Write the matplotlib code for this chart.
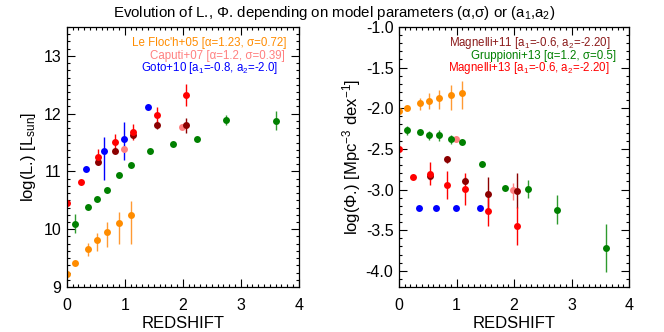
import matplotlib
matplotlib.use("Agg")
import matplotlib.pyplot as plt
from matplotlib.ticker import MultipleLocator
import numpy as np

plt.rcParams['font.family'] = ['Liberation Sans', 'DejaVu Sans']
plt.rcParams['mathtext.fontset'] = 'custom'
plt.rcParams['mathtext.rm'] = 'Liberation Sans'
plt.rcParams['mathtext.it'] = 'Liberation Sans'
plt.rcParams['mathtext.default'] = 'regular'

# ---------------- data: left panel (log L*) ----------------
lf_z = [0.0, 0.14, 0.37, 0.52, 0.69, 0.90, 1.10]
lf_L = [9.22, 9.42, 9.66, 9.81, 9.96, 10.11, 10.25]
lf_Llo = [9.22, 9.42, 9.54, 9.63, 9.69, 9.75, 9.75]
lf_Lhi = [9.22, 9.42, 9.76, 9.94, 10.12, 10.30, 10.48]

gr_z = [0.14, 0.37, 0.52, 0.69, 0.90, 1.10, 1.44, 1.84, 2.24, 2.75, 3.60]
gr_L = [10.09, 10.38, 10.52, 10.68, 10.94, 11.11, 11.35, 11.47, 11.57, 11.89, 11.88]
gr_Llo = [9.93, 10.38, 10.52, 10.68, 10.94, 11.11, 11.35, 11.47, 11.57, 11.81, 11.71]
gr_Lhi = [10.26, 10.38, 10.52, 10.68, 10.94, 11.11, 11.35, 11.47, 11.57, 11.97, 12.04]

m13_z = [0.0, 0.24, 0.54, 0.84, 1.14, 1.55, 2.05]
m13_L = [10.45, 10.81, 11.25, 11.51, 11.68, 11.97, 12.32]
m13_Llo = [10.45, 10.76, 11.12, 11.38, 11.54, 11.81, 12.13]
m13_Lhi = [10.45, 10.86, 11.38, 11.65, 11.82, 12.12, 12.51]

m11_z = [0.54, 0.84, 1.14, 1.55, 2.05]
m11_L = [11.16, 11.35, 11.63, 11.81, 11.80]
m11_Llo = [11.16, 11.35, 11.63, 11.73, 11.66]
m11_Lhi = [11.16, 11.35, 11.63, 11.88, 11.93]

ca_z = [0.99, 1.99]
ca_L = [11.38, 11.77]
ca_Llo = [11.34, 11.73]
ca_Lhi = [11.42, 11.81]

go_z = [0.34, 0.64, 0.99, 1.40]
go_L = [11.05, 11.35, 11.56, 12.12]
go_Llo = [11.00, 10.86, 11.20, 12.07]
go_Lhi = [11.10, 11.60, 11.86, 12.17]

# ---------------- data: right panel (log Phi*) ----------------
lf_P = [-2.04, -2.00, -1.94, -1.91, -1.88, -1.84, -1.81]
lf_Plo = [-2.04, -2.02, -2.02, -2.01, -2.01, -2.02, -2.01]
lf_Phi = [-2.04, -1.98, -1.87, -1.81, -1.77, -1.72, -1.67]

gr_P = [-2.27, -2.29, -2.33, -2.33, -2.38, -2.41, -2.68, -2.98, -2.99, -3.25, -3.72]
gr_Plo = [-2.33, -2.32, -2.39, -2.40, -2.44, -2.44, -2.71, -3.00, -3.11, -3.43, -4.02]
gr_Phi = [-2.22, -2.27, -2.28, -2.27, -2.33, -2.38, -2.65, -2.96, -2.88, -3.07, -3.42]

m13_P = [-2.50, -2.84, -2.81, -2.94, -2.99, -3.27, -3.45]
m13_Plo = [-2.50, -2.87, -2.94, -3.12, -3.19, -3.45, -3.68]
m13_Phi = [-2.50, -2.81, -2.66, -2.77, -2.80, -3.04, -3.22]

m11_P = [-2.83, -2.63, -2.89, -3.05, -3.02]
m11_Plo = [-2.88, -2.67, -2.93, -3.26, -3.23]
m11_Phi = [-2.78, -2.59, -2.85, -2.85, -2.80]

ca_P = [-2.38, -3.01]
ca_Plo = [-2.42, -3.13]
ca_Phi = [-2.34, -2.92]

go_P = [-3.23, -3.23, -3.23, -3.23]

# ---------------- colours ----------------
c_lf = '#FF8C00'
c_ca = '#FF8080'
c_go = '#0000FF'
c_m11 = '#8B0000'
c_gr = '#008000'
c_m13 = '#FF0000'

fig = plt.figure(figsize=(6.64, 3.32), dpi=100)
axL = fig.add_axes([0.1005, 0.1355, 0.3494, 0.7832])
axR = fig.add_axes([0.6009, 0.1355, 0.3464, 0.7832])

MS = 5.0


def ebar(ax, z, y, lo, hi, col, ecol=None):
    y = np.asarray(y, float)
    lo = np.asarray(lo, float)
    hi = np.asarray(hi, float)
    err = np.vstack([y - lo, hi - y])
    ax.errorbar(z, y, yerr=err, fmt='o', color=col, ecolor=ecol or col,
                ms=MS, mew=0, elinewidth=1.0, capsize=1.3, capthick=1.0,
                clip_on=True)


# left panel
ebar(axL, lf_z, lf_L, lf_Llo, lf_Lhi, c_lf, '#FF9A33')
ebar(axL, ca_z, ca_L, ca_Llo, ca_Lhi, c_ca)
ebar(axL, go_z, go_L, go_Llo, go_Lhi, c_go)
ebar(axL, m11_z, m11_L, m11_Llo, m11_Lhi, c_m11)
ebar(axL, gr_z, gr_L, gr_Llo, gr_Lhi, c_gr, '#2E9A2E')
ebar(axL, m13_z, m13_L, m13_Llo, m13_Lhi, c_m13)

# right panel
ebar(axR, lf_z, lf_P, lf_Plo, lf_Phi, c_lf, '#FF9A33')
ebar(axR, ca_z, ca_P, ca_Plo, ca_Phi, c_ca)
axR.plot(go_z, go_P, 'o', color=c_go, ms=MS, mew=0)
ebar(axR, m11_z, m11_P, m11_Plo, m11_Phi, c_m11)
ebar(axR, gr_z, gr_P, gr_Plo, gr_Phi, c_gr, '#2E9A2E')
ebar(axR, m13_z, m13_P, m13_Plo, m13_Phi, c_m13)

for ax in (axL, axR):
    ax.set_xlim(0, 4)
    ax.xaxis.set_major_locator(MultipleLocator(1))
    ax.xaxis.set_minor_locator(MultipleLocator(0.1))
    ax.tick_params(which='both', direction='in', top=True, right=True,
                   labelsize=11.5, width=0.8)
    ax.tick_params(which='major', length=6)
    ax.tick_params(which='minor', length=2.3)
    ax.tick_params(axis='x', pad=8)
    ax.tick_params(axis='y', pad=4)
    for s in ax.spines.values():
        s.set_linewidth(0.9)
    ax.set_xlabel('REDSHIFT', fontsize=12, labelpad=2)

axL.set_ylim(9, 13.5)
axL.yaxis.set_major_locator(MultipleLocator(1))
axL.yaxis.set_minor_locator(MultipleLocator(0.125))
axL.set_ylabel('log(L.) [L$_{sun}$]', fontsize=12, labelpad=4)

axR.set_ylim(-4.2, -1.0)
axR.yaxis.set_major_locator(MultipleLocator(0.5))
axR.yaxis.set_minor_locator(MultipleLocator(0.1))
axR.yaxis.set_major_formatter(matplotlib.ticker.FuncFormatter(lambda v, p: '%.1f' % v))
axR.set_ylabel('log(\u03a6.) [Mpc$^{-3}$ dex$^{-1}$]', fontsize=12, labelpad=2)

fs_leg = 8.3


def ltext(px, py, s, col):
    x, y = fig.transFigure.inverted().transform((px, 332 - py))
    fig.text(x, y, s, color=col, fontsize=fs_leg, ha='right', va='center')


ltext(286.7, 43, "Le Floc'h+05 [\u03b1=1.23, \u03c3=0.72]", c_lf)
ltext(285.3, 55.5, "Caputi+07 [\u03b1=1.2, \u03c3=0.39]", c_ca)
ltext(278.7, 68, "Goto+10 [a$_1$=-0.8, a$_2$=-2.0]", c_go)
ltext(610.7, 43, "Magnelli+11 [a$_1$=-0.6, a$_2$=-2.20]", '#8B1A1A')
ltext(616, 55.5, "Gruppioni+13 [\u03b1=1.2, \u03c3=0.5]", c_gr)
ltext(610, 68, "Magnelli+13 [a$_1$=-0.6, a$_2$=-2.20]", c_m13)

fig.text(0.503, 1 - 13 / 332,
         'Evolution of L., \u03a6. depending on model parameters (\u03b1,\u03c3) or (a$_1$,a$_2$)',
         ha='center', va='center', fontsize=10.8,
         family=['Liberation Sans Narrow', 'Liberation Sans', 'DejaVu Sans'])

fig.savefig('out.png', dpi=100)
